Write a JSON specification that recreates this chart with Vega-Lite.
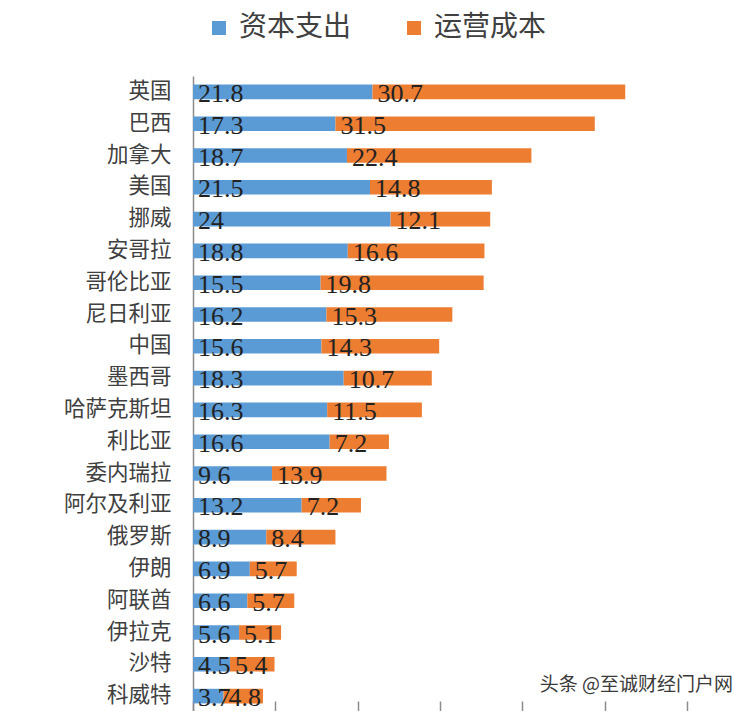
{
  "$schema": "https://vega.github.io/schema/vega-lite/v6.json",
  "autosize": {"type": "none"},
  "width": 494,
  "height": 636,
  "padding": {"left": 193, "top": 76, "right": 63, "bottom": 0},
  "background": "#ffffff",
  "config": {"view": {"stroke": null}},
  "data": {"values": [
    {"country": "英国", "type": "资本支出", "value": 21.8, "order": 1},
    {"country": "英国", "type": "运营成本", "value": 30.7, "order": 2},
    {"country": "巴西", "type": "资本支出", "value": 17.3, "order": 1},
    {"country": "巴西", "type": "运营成本", "value": 31.5, "order": 2},
    {"country": "加拿大", "type": "资本支出", "value": 18.7, "order": 1},
    {"country": "加拿大", "type": "运营成本", "value": 22.4, "order": 2},
    {"country": "美国", "type": "资本支出", "value": 21.5, "order": 1},
    {"country": "美国", "type": "运营成本", "value": 14.8, "order": 2},
    {"country": "挪威", "type": "资本支出", "value": 24, "order": 1},
    {"country": "挪威", "type": "运营成本", "value": 12.1, "order": 2},
    {"country": "安哥拉", "type": "资本支出", "value": 18.8, "order": 1},
    {"country": "安哥拉", "type": "运营成本", "value": 16.6, "order": 2},
    {"country": "哥伦比亚", "type": "资本支出", "value": 15.5, "order": 1},
    {"country": "哥伦比亚", "type": "运营成本", "value": 19.8, "order": 2},
    {"country": "尼日利亚", "type": "资本支出", "value": 16.2, "order": 1},
    {"country": "尼日利亚", "type": "运营成本", "value": 15.3, "order": 2},
    {"country": "中国", "type": "资本支出", "value": 15.6, "order": 1},
    {"country": "中国", "type": "运营成本", "value": 14.3, "order": 2},
    {"country": "墨西哥", "type": "资本支出", "value": 18.3, "order": 1},
    {"country": "墨西哥", "type": "运营成本", "value": 10.7, "order": 2},
    {"country": "哈萨克斯坦", "type": "资本支出", "value": 16.3, "order": 1},
    {"country": "哈萨克斯坦", "type": "运营成本", "value": 11.5, "order": 2},
    {"country": "利比亚", "type": "资本支出", "value": 16.6, "order": 1},
    {"country": "利比亚", "type": "运营成本", "value": 7.2, "order": 2},
    {"country": "委内瑞拉", "type": "资本支出", "value": 9.6, "order": 1},
    {"country": "委内瑞拉", "type": "运营成本", "value": 13.9, "order": 2},
    {"country": "阿尔及利亚", "type": "资本支出", "value": 13.2, "order": 1},
    {"country": "阿尔及利亚", "type": "运营成本", "value": 7.2, "order": 2},
    {"country": "俄罗斯", "type": "资本支出", "value": 8.9, "order": 1},
    {"country": "俄罗斯", "type": "运营成本", "value": 8.4, "order": 2},
    {"country": "伊朗", "type": "资本支出", "value": 6.9, "order": 1},
    {"country": "伊朗", "type": "运营成本", "value": 5.7, "order": 2},
    {"country": "阿联酋", "type": "资本支出", "value": 6.6, "order": 1},
    {"country": "阿联酋", "type": "运营成本", "value": 5.7, "order": 2},
    {"country": "伊拉克", "type": "资本支出", "value": 5.6, "order": 1},
    {"country": "伊拉克", "type": "运营成本", "value": 5.1, "order": 2},
    {"country": "沙特", "type": "资本支出", "value": 4.5, "order": 1},
    {"country": "沙特", "type": "运营成本", "value": 5.4, "order": 2},
    {"country": "科威特", "type": "资本支出", "value": 3.7, "order": 1},
    {"country": "科威特", "type": "运营成本", "value": 4.8, "order": 2}
  ]},
  "encoding": {
    "y": {
      "field": "country",
      "type": "nominal",
      "sort": ["英国", "巴西", "加拿大", "美国", "挪威", "安哥拉", "哥伦比亚", "尼日利亚", "中国", "墨西哥", "哈萨克斯坦", "利比亚", "委内瑞拉", "阿尔及利亚", "俄罗斯", "伊朗", "阿联酋", "伊拉克", "沙特", "科威特"],
      "scale": {"paddingInner": 0.54, "paddingOuter": 0.27},
      "axis": {
        "title": null,
        "ticks": false,
        "labelFont": "Noto Sans CJK SC",
        "labelFontSize": 21.5,
        "labelColor": "#404040",
        "labelPadding": 22,
        "domainColor": "#8c8c8c",
        "domainWidth": 1.5
      }
    },
    "x": {
      "field": "v0",
      "type": "quantitative",
      "scale": {"domain": [0, 60], "nice": false},
      "axis": {
        "title": null,
        "labels": false,
        "domain": false,
        "grid": false,
        "values": [0, 10, 20, 30, 40, 50, 60],
        "tickSize": -11,
        "tickColor": "#8c8c8c",
        "tickWidth": 1.5
      }
    }
  },
  "layer": [
    {
      "transform": [
        {"stack": "value", "groupby": ["country"], "sort": [{"field": "order", "order": "ascending"}], "as": ["v0", "v1"]}
      ],
      "layer": [
        {
          "mark": {"type": "bar"},
          "encoding": {
            "x2": {"field": "v1"},
            "color": {
              "field": "type",
              "type": "nominal",
              "sort": ["资本支出", "运营成本"],
              "scale": {"domain": ["资本支出", "运营成本"], "range": ["#5b9bd5", "#ed7d31"]},
              "legend": {
                "title": null,
                "orient": "none",
                "direction": "horizontal",
                "legendX": 12,
                "legendY": -62,
                "symbolType": "square",
                "symbolSize": 196,
                "symbolStrokeWidth": 0,
                "labelFont": "Noto Sans CJK SC",
                "labelFontSize": 28,
                "labelColor": "#404040",
                "labelOffset": 6,
                "columnPadding": 48
              }
            }
          }
        },
        {
          "mark": {"type": "text", "align": "left", "baseline": "middle", "dx": 5, "dy": 2, "font": "Liberation Serif", "fontSize": 26, "color": "#222222"},
          "encoding": {
            "text": {"field": "value", "type": "quantitative", "format": "~g"}
          }
        }
      ]
    },
    {
      "data": {"values": [{"note": "头条 @至诚财经门户网", "v0": 60, "country": "科威特"}]},
      "mark": {"type": "text", "align": "right", "baseline": "middle", "dx": 46, "dy": -11, "font": "Noto Sans CJK SC", "fontSize": 19, "color": "#3a3a3a"},
      "encoding": {
        "text": {"field": "note"}
      }
    }
  ]
}
